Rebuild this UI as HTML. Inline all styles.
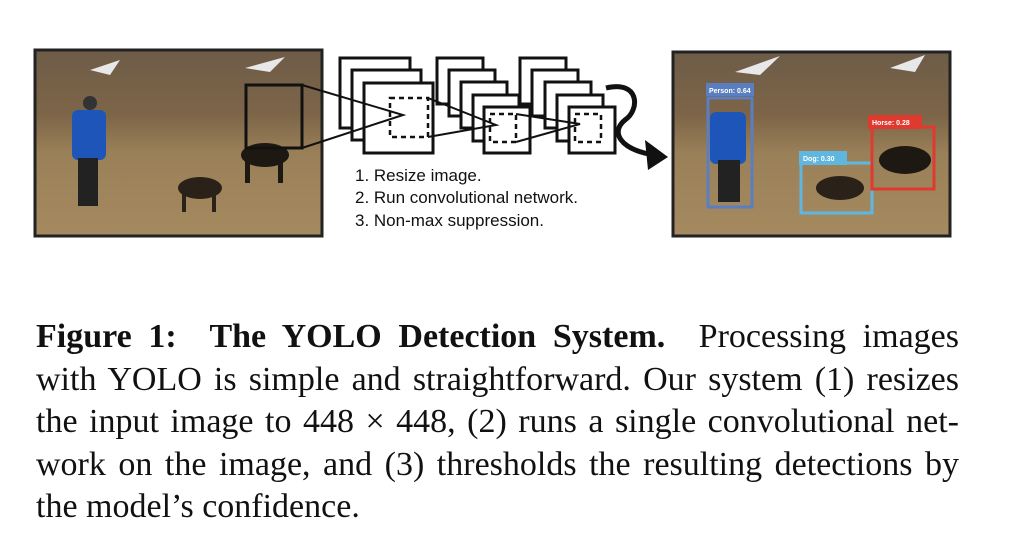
<!DOCTYPE html>
<html><head><meta charset="utf-8"><style>
body{margin:0;width:1018px;height:542px;background:#fff;overflow:hidden;position:relative;}
.cap{position:absolute;left:36px;width:923px;font-family:"Liberation Serif",serif;font-size:34px;color:#111;}
.cap div{height:42.5px;line-height:42.5px;text-align:justify;text-align-last:justify;white-space:nowrap;}
.cap div.last{text-align-last:left;}
</style></head><body>
<svg width="1018" height="300" style="position:absolute;left:0;top:0">
<defs>
<linearGradient id="ph" x1="0" y1="0" x2="0" y2="1">
<stop offset="0" stop-color="#6e5c48"/><stop offset="0.35" stop-color="#7d6548"/><stop offset="0.55" stop-color="#9a8058"/><stop offset="1" stop-color="#a58a60"/>
</linearGradient>
</defs>
<rect x="35" y="50" width="287" height="186" fill="url(#ph)" stroke="#222" stroke-width="3"/>
<path d="M90 70 L120 60 L110 75Z M245 68 L285 57 L270 72Z" fill="#e8e8e8"/>
<rect x="72" y="110" width="34" height="50" fill="#1e55b8" rx="6"/>
<rect x="78" y="158" width="20" height="48" fill="#222"/>
<circle cx="90" cy="103" r="7" fill="#333"/>
<ellipse cx="200" cy="188" rx="22" ry="11" fill="#2a2118"/>
<rect x="182" y="190" width="4" height="22" fill="#2a2118"/><rect x="212" y="190" width="4" height="22" fill="#2a2118"/>
<ellipse cx="265" cy="155" rx="24" ry="12" fill="#1e1812"/>
<rect x="245" y="158" width="5" height="25" fill="#1e1812"/><rect x="278" y="158" width="5" height="25" fill="#1e1812"/>
<rect x="246" y="85" width="56" height="63" fill="none" stroke="#111" stroke-width="3"/>
<g fill="#fff" stroke="#111" stroke-width="3">
<rect x="340" y="58" width="70" height="70"/><rect x="352" y="70" width="69" height="70"/><rect x="364" y="83" width="69" height="70"/>
<rect x="437" y="58" width="46" height="46"/><rect x="449" y="70" width="46" height="46"/><rect x="461" y="82" width="46" height="46"/><rect x="473" y="95" width="46" height="46"/><rect x="484" y="107" width="46" height="46"/>
<rect x="520" y="58" width="46" height="46"/><rect x="532" y="70" width="46" height="46"/><rect x="545" y="82" width="46" height="46"/><rect x="557" y="95" width="46" height="46"/><rect x="569" y="107" width="46" height="46"/>
</g>
<g fill="none" stroke="#111" stroke-width="2.5" stroke-dasharray="5,4">
<rect x="390" y="98" width="38" height="39"/><rect x="490" y="114" width="26" height="28"/><rect x="575" y="114" width="26" height="28"/>
</g>
<g stroke="#111" stroke-width="2" fill="none">
<path d="M302 85 L403 115 L302 148"/>
<path d="M428 98 L496 125 L428 137"/>
<path d="M516 114 L580 124 L516 142"/>
</g>
<path d="M606 88 C640 80 640 110 625 120 C610 132 620 150 655 155" fill="none" stroke="#111" stroke-width="5"/>
<path d="M668 157 L645 140 L648 170Z" fill="#111"/>
<g font-family="'Liberation Sans',sans-serif" font-size="17" fill="#111">
<text x="355" y="181">1. Resize image.</text>
<text x="355" y="203">2. Run convolutional network.</text>
<text x="355" y="226">3. Non-max suppression.</text>
</g>
<rect x="673" y="52" width="277" height="184" fill="url(#ph)" stroke="#222" stroke-width="3"/>
<path d="M735 72 L780 56 L760 75Z M890 68 L925 55 L915 72Z" fill="#e8e8e8"/>
<rect x="710" y="112" width="36" height="52" fill="#1e55b8" rx="6"/>
<rect x="718" y="160" width="22" height="42" fill="#222"/>
<ellipse cx="840" cy="188" rx="24" ry="12" fill="#2a2118"/>
<ellipse cx="905" cy="160" rx="26" ry="14" fill="#1e1812"/>
<rect x="708" y="98" width="44" height="109" fill="none" stroke="#5a7ec0" stroke-width="3"/>
<rect x="706" y="83" width="48" height="13" fill="#5a7ec0"/>
<text x="709" y="93" font-family="'Liberation Sans',sans-serif" font-size="7" font-weight="bold" fill="#fff">Person: 0.64</text>
<rect x="801" y="163" width="71" height="50" fill="none" stroke="#5fb7e0" stroke-width="3"/>
<rect x="799" y="151" width="48" height="14" fill="#5fb7e0"/>
<text x="803" y="161" font-family="'Liberation Sans',sans-serif" font-size="7" font-weight="bold" fill="#fff">Dog: 0.30</text>
<rect x="872" y="127" width="62" height="62" fill="none" stroke="#e03a30" stroke-width="3"/>
<rect x="868" y="115" width="54" height="14" fill="#e03a30"/>
<text x="872" y="125" font-family="'Liberation Sans',sans-serif" font-size="7" font-weight="bold" fill="#fff">Horse: 0.28</text>
</svg>
<div class="cap" style="top:316px">
<div><b>Figure 1:&nbsp; The YOLO Detection System.</b>&nbsp; Processing images</div>
<div>with YOLO is simple and straightforward. Our system (1) resizes</div>
<div>the input image to 448 × 448, (2) runs a single convolutional net-</div>
<div>work on the image, and (3) thresholds the resulting detections by</div>
<div class="last">the model’s confidence.</div>
</div>
</body></html>
